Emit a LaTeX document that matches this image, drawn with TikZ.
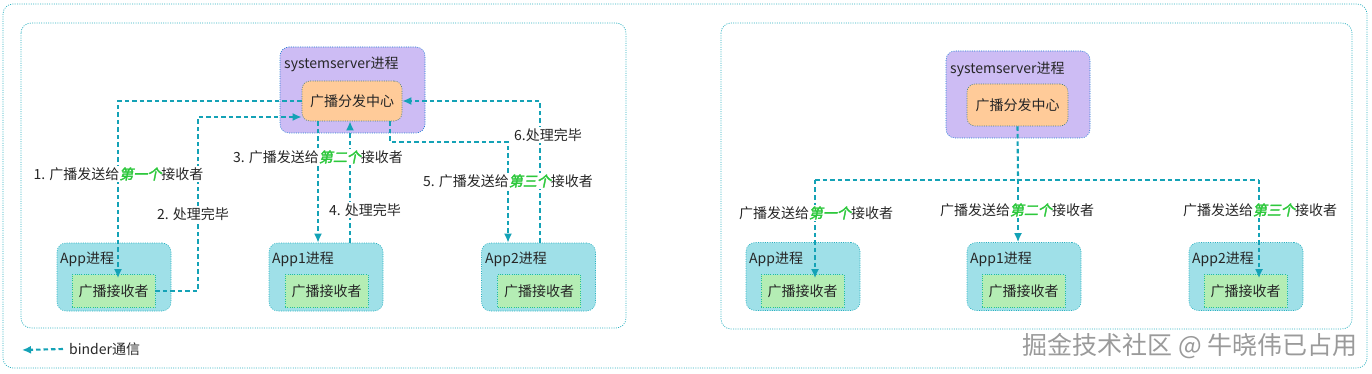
\documentclass[tikz,border=0pt]{standalone}
\usepackage{fontspec}
\setmainfont{Noto Sans CJK SC}
\newfontfamily\emfont[FakeSlant=0.2,FakeBold=2.5]{Noto Sans CJK SC}
\usetikzlibrary{arrows.meta}
\definecolor{conncol}{HTML}{14A2B6}
\definecolor{framecol}{HTML}{2AB0C0}
\definecolor{sscol}{HTML}{CDBCF4}
\definecolor{hubcol}{HTML}{FFCB99}
\definecolor{appcol}{HTML}{9FE0E8}
\definecolor{reccol}{HTML}{B4EDB4}
\definecolor{txtcol}{HTML}{262626}
\definecolor{emcol}{HTML}{2DC83C}
\definecolor{wmcol}{HTML}{9A9A9A}
\newcommand{\hlgreen}[1]{{\emfont\color{emcol}#1}}
\tikzset{
  frame/.style={draw=framecol, line width=0.7pt, dash pattern=on 1pt off 1.3pt, rounded corners=10pt},
  ssbox/.style={draw=framecol!70!blue, fill=sscol, line width=0.6pt, dash pattern=on 1pt off 1.3pt, rounded corners=9pt},
  hubbox/.style={draw=gray!60!teal, fill=hubcol, line width=0.6pt, dash pattern=on 1pt off 1.3pt, rounded corners=8pt, minimum width=100pt, minimum height=40pt, inner sep=0pt, font=\fontsize{14}{16}\selectfont, text=txtcol},
  appbox/.style={draw=framecol, fill=appcol, line width=0.6pt, dash pattern=on 1pt off 1.3pt, rounded corners=9pt, minimum width=114pt, minimum height=68pt, inner sep=0pt},
  recbox/.style={draw=framecol!80!green, fill=reccol, line width=0.6pt, dash pattern=on 1pt off 1.3pt, minimum width=83pt, minimum height=33pt, inner sep=0pt, font=\fontsize{14}{16}\selectfont, text=txtcol},
  lbl/.style={font=\fontsize{14}{16}\selectfont, text=txtcol, inner sep=0pt},
  clbl/.style={font=\fontsize{14}{16}\selectfont, text=txtcol, fill=white, inner sep=1.5pt},
  conn/.style={draw=conncol, line width=2.1pt, dash pattern=on 4.5pt off 3pt},
  tip/.style={-{Latex[length=9pt,width=8pt]}}
}
\begin{document}
\begin{tikzpicture}[x=1pt,y=-1pt]
\useasboundingbox (0,0) rectangle (1372,374);
% frames
\draw[frame] (3,4) rectangle (1367,368);
\draw[frame] (21,23) rectangle (626,328);
\draw[frame] (721,23) rectangle (1352,329);

% ---------- left panel ----------
\node[ssbox, minimum width=145pt, minimum height=86pt] (ss1) at (352.5,90) {};
\node[lbl, anchor=west] (ss1t) at (284,64) {systemserver进程};
\node[hubbox] (hub1) at (352,101) {广播分发中心};

\node[appbox] (app0) at (114,277) {};
\node[lbl, anchor=west] (app0t) at (60,259) {App进程};
\node[recbox] (rec0) at (113.5,291) {广播接收者};

\node[appbox] (app1) at (326,277) {};
\node[lbl, anchor=west] (app1t) at (272,259) {App1进程};
\node[recbox] (rec1) at (326.5,291) {广播接收者};

\node[appbox] (app2) at (538.5,277) {};
\node[lbl, anchor=west] (app2t) at (485,259) {App2进程};
\node[recbox] (rec2) at (539,291) {广播接收者};

\coordinate (c1) at (118,101);
\coordinate (c2) at (198,117);
\coordinate (c5) at (508,142);

\draw[conn, tip] (hub1.west) -- (c1) -- ([yshift=-4pt]c1 |- rec0.north);
\draw[conn, tip] (rec0.east) -| (c2) -- (c2 -| hub1.west);
\draw[conn, tip] ([xshift=-34pt]hub1.south) -- ([xshift=-8pt]app1.north);
\draw[conn, tip] ([xshift=24pt]app1.north) -- ([xshift=-2pt]hub1.south);
\draw[conn, tip] ([xshift=38pt]hub1.south) |- (c5) -- (c5 |- app2.north);
\draw[conn, tip] ([xshift=1.5pt]app2.north) |- (hub1.east);

\node[clbl] (l1) at (118.5,174) {1. 广播发送给\hlgreen{第一个}接收者};
\node[clbl] (l2) at (193,214) {2. 处理完毕};
\node[clbl] (l3) at (318,157) {3. 广播发送给\hlgreen{第二个}接收者};
\node[clbl] (l4) at (365,210) {4. 处理完毕};
\node[clbl] (l5) at (508,181) {5. 广播发送给\hlgreen{第三个}接收者};
\node[clbl] (l6) at (548,135) {6.处理完毕};

% legend
\coordinate (lg) at (22,350);
\node[lbl, anchor=west] (lgt) at (69,349) {binder通信};
\draw[conn, tip] ([xshift=-6pt]lgt.west) -- (lg);

% ---------- right panel ----------
\node[ssbox, minimum width=144pt, minimum height=87pt] (ss2) at (1018,94.5) {};
\node[lbl, anchor=west] (ss2t) at (950,69) {systemserver进程};
\node[hubbox, minimum width=101pt, minimum height=42pt] (hub2) at (1017.5,105) {广播分发中心};

\node[appbox] (rapp0) at (803,276.5) {};
\node[lbl, anchor=west] (rapp0t) at (749,259) {App进程};
\node[recbox] (rrec0) at (802.5,291) {广播接收者};

\node[appbox] (rapp1) at (1024,276.5) {};
\node[lbl, anchor=west] (rapp1t) at (970,259) {App1进程};
\node[recbox] (rrec1) at (1023.5,291) {广播接收者};

\node[appbox] (rapp2) at (1246,276.5) {};
\node[lbl, anchor=west] (rapp2t) at (1192,259) {App2进程};
\node[recbox] (rrec2) at (1245.5,291) {广播接收者};

\coordinate (bL) at (815,180);
\coordinate (bM) at (1018,180);
\coordinate (bR) at (1259,180);

\draw[conn] (hub2.south) -- (bM);
\draw[conn] (bL) -- (bR);
\draw[conn, tip] (bL) -- ([yshift=-4pt]bL |- rrec0.north);
\draw[conn, tip] (bM) -- (bM |- rapp1.north);
\draw[conn, tip] (bR) -- ([yshift=-4pt]bR |- rrec2.north);

\node[clbl] (r1) at (816,213) {广播发送给\hlgreen{第一个}接收者};
\node[clbl] (r2) at (1017,210) {广播发送给\hlgreen{第二个}接收者};
\node[clbl] (r3) at (1260,210) {广播发送给\hlgreen{第三个}接收者};

% watermark
\node[anchor=east, inner sep=0pt, text=wmcol, font=\fontsize{25}{28}\selectfont] (wm) at (1358,346) {掘金技术社区 @ 牛晓伟已占用};
\end{tikzpicture}
\end{document}
